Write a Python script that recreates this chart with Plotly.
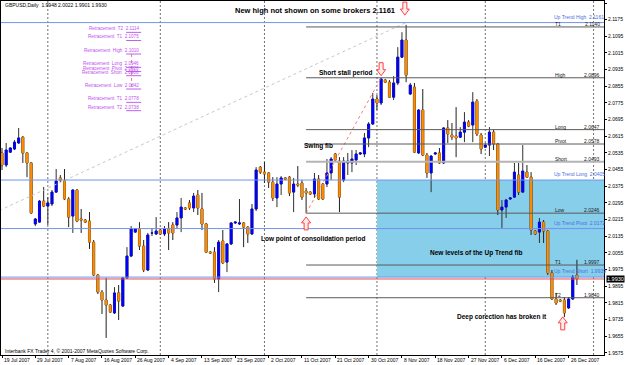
import pandas as pd
import plotly.graph_objects as go

# ---------------- data ----------------
opens = [2.0535,2.0477,2.0539,2.0554,2.0583,2.0611,2.0535,2.0487,2.0194,2.0203,
         2.0304,2.0280,2.0290,2.0347,2.0415,2.0400,2.0314,2.0232,2.0357,2.0218,
         2.0213,2.0208,2.0107,1.9949,1.9867,1.9829,1.9805,1.9767,1.9863,1.9800,
         1.9935,2.0040,2.0155,2.0170,2.0088,1.9973,2.0151,2.0146,2.0165,2.0146,
         2.0170,2.0189,2.0189,2.0223,2.0271,2.0295,2.0271,2.0333,2.0266,2.0194,
         2.0059,2.0059,1.9930,2.0112,2.0011,2.0098,2.0199,2.0194,2.0199,2.0179,
         2.0146,2.0266,2.0467,2.0443,2.0439,2.0395,2.0319,2.0386,2.0415,2.0419,
         2.0347,2.0386,2.0391,2.0352,2.0347,2.0338,2.0410,2.0386,2.0386,2.0439,
         2.0530,2.0496,2.0405,2.0487,2.0487,2.0501,2.0530,2.0530,2.0607,2.0674,
         2.0794,2.0775,2.0885,2.0875,2.0803,2.0871,2.0995,2.1077,2.0818,2.0851,
         2.0535,2.0741,2.0525,2.0439,2.0530,2.0535,2.0487,2.0655,2.0621,2.0616,
         2.0611,2.0635,2.0683,2.0669,2.0784,2.0621,2.0563,2.0573,2.0635,2.0578,
         2.0261,2.0275,2.0314,2.0323,2.0429,2.0347,2.0443,2.0419,2.0160,2.0155,
         2.0203,2.0160,1.9959,1.9834,1.9829,1.9829,1.9791,1.9834,1.9948]
highs = [2.0559,2.0583,2.0563,2.0597,2.0655,2.0616,2.0539,2.0491,2.0223,2.0309,
         2.0371,2.0323,2.0357,2.0458,2.0429,2.0458,2.0323,2.0362,2.0362,2.0266,
         2.0218,2.0251,2.0117,1.9954,1.9877,1.9935,1.9810,1.9891,1.9901,1.9939,
         2.0083,2.0184,2.0175,2.0203,2.0117,2.0151,2.0175,2.0227,2.0170,2.0184,
         2.0203,2.0203,2.0251,2.0319,2.0275,2.0309,2.0343,2.0357,2.0343,2.0199,
         2.0064,2.0083,2.0117,2.0165,2.0103,2.0203,2.0208,2.0314,2.0203,2.0184,
         2.0290,2.0467,2.0472,2.0491,2.0443,2.0419,2.0419,2.0424,2.0419,2.0424,
         2.0415,2.0472,2.0405,2.0367,2.0352,2.0439,2.0429,2.0391,2.0506,2.0515,
         2.0535,2.0515,2.0515,2.0535,2.0549,2.0549,2.0539,2.0631,2.0683,2.0823,
         2.0813,2.0896,2.0890,2.0885,2.0904,2.1043,2.1115,2.1150,2.0871,2.0871,
         2.0746,2.0842,2.0535,2.0525,2.0539,2.0559,2.0659,2.0693,2.0679,2.0755,
         2.0659,2.0731,2.0693,2.0827,2.0794,2.0631,2.0583,2.0659,2.0645,2.0583,
         2.0309,2.0314,2.0323,2.0487,2.0487,2.0573,2.0477,2.0443,2.0165,2.0223,
         2.0213,2.0165,1.9973,1.9863,1.9834,1.9843,1.9843,1.9949,2.0022]
lows = [2.0453,2.0467,2.0535,2.0549,2.0578,2.0487,2.0419,2.0242,2.0184,2.0199,
        2.0275,2.0189,2.0280,2.0343,2.0395,2.0309,2.0179,2.0151,2.0203,2.0151,
        2.0199,2.0074,1.9944,1.9858,1.9762,1.9647,1.9767,1.9762,1.9733,1.9795,
        1.9930,2.0035,2.0151,2.0069,1.9963,1.9968,2.0136,2.0141,2.0141,2.0136,
        2.0069,2.0117,2.0175,2.0155,2.0261,2.0261,2.0251,2.0237,2.0165,2.0055,
        2.0050,1.9911,1.9867,2.0002,1.9963,2.0093,2.0194,2.0189,2.0083,2.0103,
        2.0141,2.0256,2.0434,2.0391,2.0367,2.0304,2.0275,2.0333,2.0405,2.0328,
        2.0251,2.0371,2.0309,2.0246,2.0333,2.0319,2.0309,2.0309,2.0371,2.0405,
        2.0496,2.0251,2.0395,2.0429,2.0443,2.0477,2.0525,2.0515,2.0563,2.0669,
        2.0741,2.0765,2.0871,2.0799,2.0789,2.0861,2.0991,2.0875,2.0813,2.0535,
        2.0530,2.0520,2.0415,2.0347,2.0525,2.0482,2.0482,2.0583,2.0597,2.0515,
        2.0607,2.0587,2.0659,2.0587,2.0616,2.0530,2.0559,2.0520,2.0549,2.0237,
        2.0175,2.0223,2.0309,2.0319,2.0333,2.0343,2.0415,2.0141,2.0141,2.0103,
        2.0103,1.9949,1.9829,1.9805,1.9819,1.9747,1.9786,1.9829,1.9901]
closes = [2.0477,2.0549,2.0559,2.0587,2.0607,2.0535,2.0487,2.0247,2.0218,2.0304,
          2.0280,2.0295,2.0347,2.0400,2.0405,2.0314,2.0227,2.0357,2.0208,2.0213,
          2.0203,2.0107,1.9949,1.9867,1.9829,1.9805,1.9771,1.9863,1.9824,1.9935,
          2.0040,2.0170,2.0170,2.0088,1.9973,2.0141,2.0151,2.0160,2.0146,2.0170,
          2.0151,2.0151,2.0223,2.0275,2.0266,2.0271,2.0328,2.0271,2.0194,2.0059,
          2.0055,1.9930,2.0107,2.0007,2.0098,2.0199,2.0203,2.0199,2.0179,2.0146,
          2.0266,2.0453,2.0443,2.0434,2.0395,2.0319,2.0386,2.0415,2.0410,2.0343,
          2.0386,2.0381,2.0323,2.0343,2.0338,2.0410,2.0314,2.0314,2.0439,2.0506,
          2.0501,2.0323,2.0496,2.0496,2.0506,2.0530,2.0535,2.0607,2.0674,2.0794,
          2.0775,2.0890,2.0875,2.0803,2.0871,2.0995,2.1077,2.0909,2.0861,2.0539,
          2.0741,2.0525,2.0439,2.0520,2.0535,2.0487,2.0655,2.0626,2.0611,2.0607,
          2.0635,2.0683,2.0664,2.0779,2.0626,2.0554,2.0573,2.0635,2.0578,2.0261,
          2.0275,2.0309,2.0319,2.0443,2.0347,2.0448,2.0419,2.0165,2.0146,2.0203,
          2.0160,1.9959,1.9834,1.9815,1.9824,1.9767,1.9834,1.9939,1.9930]

date_labels = ["19 Jul 2007", "29 Jul 2007", "7 Aug 2007", "16 Aug 2007", "26 Aug 2007",
               "4 Sep 2007", "13 Sep 2007", "23 Sep 2007", "2 Oct 2007", "11 Oct 2007",
               "21 Oct 2007", "30 Oct 2007", "8 Nov 2007", "18 Nov 2007", "27 Nov 2007",
               "6 Dec 2007", "16 Dec 2007", "26 Dec 2007"]
price_ticks = [2.1255, 2.1175, 2.1095, 2.1015, 2.0935, 2.0855, 2.0775, 2.0695, 2.0615,
               2.0535, 2.0455, 2.0375, 2.0295, 2.0215, 2.0135, 2.0055, 1.9975, 1.9895,
               1.9815, 1.9735, 1.9655, 1.9575]
grid_dates = ["2007-08-01", "2007-09-02", "2007-10-01", "2007-11-01", "2007-12-02", "2008-01-02"]

swing_names = ["T1", "High", "Long", "Pivot", "Short", "Low", "T1", "T2"]
swing_levels = [2.1140, 2.0896, 2.0647, 2.0578, 2.0493, 2.0246, 1.9997, 1.9840]
up_names = ["Up Trend High", "Up Trend Long", "Up Trend Pivot", "Up Trend Short"]
up_levels = [2.1161, 2.0405, 2.0172, 1.9939]
up_low = 1.9183
retr_names = ["T2", "T1", "High", "Long", "Pivot", "Short", "Low", "T1", "T2"]
retr_levels = [2.1114, 2.1075, 2.1010, 2.0946, 2.0926, 2.0906, 2.0842, 2.0778, 2.0738]
bid = 1.9930

BULL, BEAR = "#0000FF", "#FF8C00"

# ---------------- calendar (Sun-Fri bars) ----------------
cal = pd.bdate_range("2007-07-19", "2008-01-15", freq="C",
                     weekmask="Sun Mon Tue Wed Thu Fri", holidays=["2007-12-25"])
cal = [d.strftime("%Y-%m-%d") for d in cal]
pos = {d: i for i, d in enumerate(cal)}
n = len(opens)
xs = list(range(n))
label_idx = [pos[pd.to_datetime(t).strftime("%Y-%m-%d")] for t in date_labels]
grid_idx = [pos[d] for d in grid_dates]

# ---------------- geometry ----------------
W, H = 625, 365
ML, MR, MT, MB = 1, 21, 1, 10
PW, PH = W - ML - MR, H - MT - MB
x_rng = [-0.24, 144.5]
y_rng = [1.9565, 2.12646]
bpx = PW / (x_rng[1] - x_rng[0])      # px per bar
ppx = PH / (y_rng[1] - y_rng[0])      # px per price unit

def px2paper(px, py):
    return (px - ML) / PW, 1 - (py - MT) / PH

fig = go.Figure()
# shadows (wicks) with dark outline
fig.add_trace(go.Candlestick(
    x=xs, open=opens, high=highs, low=lows, close=closes,
    increasing=dict(fillcolor=BULL, line=dict(color="#303030", width=1)),
    decreasing=dict(fillcolor=BEAR, line=dict(color="#202020", width=1)),
    whiskerwidth=0, showlegend=False, hoverinfo="skip"))
# solid bodies drawn on top (same candles, body range only)
body_hi = [max(o, c) for o, c in zip(opens, closes)]
body_lo = [min(o, c) for o, c in zip(opens, closes)]
fig.add_trace(go.Candlestick(
    x=xs, open=opens, high=body_hi, low=body_lo, close=closes,
    increasing=dict(fillcolor=BULL, line=dict(color=BULL, width=0.5)),
    decreasing=dict(fillcolor=BEAR, line=dict(color=BEAR, width=0.5)),
    whiskerwidth=0, showlegend=False, hoverinfo="skip"))

shapes = []
shapes.append(dict(type="rect", xref="x", yref="y", x0=pos["2007-11-01"], x1=x_rng[1],
                   y0=up_levels[3], y1=up_levels[1], fillcolor="#87CEEB",
                   line=dict(width=0), layer="below"))
for g in grid_idx:
    shapes.append(dict(type="line", xref="x", yref="paper", x0=g, x1=g, y0=0, y1=1,
                       line=dict(color="#707070", width=1, dash="2px,2px"), layer="below"))
shapes.append(dict(type="line", xref="x", yref="y", x0=-117, y0=up_low, x1=97, y1=up_levels[0],
                   line=dict(color="#C8C8C8", width=1, dash="dot")))
shapes.append(dict(type="line", xref="x", yref="y", x0=73, y0=swing_levels[5], x1=91,
                   y1=swing_levels[1], line=dict(color="#F08080", width=1, dash="dot")))
for nm, lv in zip(swing_names, swing_levels):
    col, wd = ("#B4B4B4", 2) if nm == "Short" else ("#5A5A5A", 1)
    shapes.append(dict(type="line", xref="x", yref="y", x0=73, x1=x_rng[1], y0=lv, y1=lv,
                       line=dict(color=col, width=wd)))
for lv in up_levels:
    shapes.append(dict(type="line", xref="x", yref="y", x0=x_rng[0], x1=x_rng[1], y0=lv, y1=lv,
                       line=dict(color="#7093F0", width=1)))
shapes.append(dict(type="line", xref="x", yref="y", x0=x_rng[0], x1=x_rng[1], y0=bid, y1=bid,
                   line=dict(color="#E05050", width=1)))
shapes.append(dict(type="line", xref="x", yref="y", x0=31.1, x1=31.1, y0=retr_levels[2],
                   y1=retr_levels[6], line=dict(color="#F08080", width=1, dash="dot")))
for lv in retr_levels:
    shapes.append(dict(type="line", xref="x", yref="y", x0=29.8, x1=33.4, y0=lv, y1=lv,
                       line=dict(color="#C060F0", width=1)))

def arrow(xc, ytip, down=True):
    pts = [(-2, 13), (2, 13), (2, 6), (4.5, 6), (0, 0), (-4.5, 6), (-2, 6)]
    s = 1 if down else -1
    coords = [(xc + dx / bpx, ytip + s * dy / ppx) for dx, dy in pts]
    path = "M " + " L ".join(f"{a:.4f},{b:.5f}" for a, b in coords) + " Z"
    return dict(type="path", xref="x", yref="y", path=path,
                line=dict(color="#FF4040", width=1), fillcolor="rgba(255,235,235,0.9)")

shapes.append(arrow(96.7, 2.1197, True))
shapes.append(arrow(91.0, 2.0906, True))
shapes.append(arrow(73.0, 2.0228, False))
shapes.append(arrow(134.6, 1.9748, False))

ann = []
F = "Liberation Sans"
def txt(text, px, py, size=7, color="black", xanchor="left", **kw):
    xp, yp = px2paper(px, py)
    ann.append(dict(text=text, x=xp, y=yp, xref="paper", yref="paper", showarrow=False,
                    xanchor=xanchor, yanchor="middle", font=dict(family=F, size=size, color=color), **kw))

txt("GBPUSD,Daily  1.9948 2.0022 1.9901 1.9930", 3, 5, 5)
txt("Interbank FX Trader 4, © 2001-2007 MetaQuotes Software Corp.", 3, 351, 5)
txt("<b>New high not shown on some brokers 2.1161</b>", 233, 10, 7.5)
txt("<b>Short stall period</b>", 317, 73, 6.5)
txt("<b>Swing fib</b>", 302, 146, 6.5)
txt("<b>Low point of consolidation period</b>", 259, 239, 6.5)
txt("<b>New levels of the Up Trend fib</b>", 428, 253, 6.5)
txt("<b>Deep corection has broken it</b>", 455, 317, 6.5)

def lvl(text, px, price, color, xanchor="left", size=5, yshift=-1):
    xp, _ = px2paper(px, 0)
    ann.append(dict(text=text, x=xp, y=price, xref="paper", yref="y", showarrow=False,
                    xanchor=xanchor, yanchor="bottom", yshift=yshift,
                    font=dict(family=F, size=size, color=color)))

for nm, lv in zip(swing_names, swing_levels):
    lvl(nm, 553, lv, "#202020", yshift=-2)
    lvl(f"{lv:.4f}", 602, lv, "#202020", "right", yshift=-2)
for nm, lv in zip(up_names, up_levels):
    lvl(f"{nm}  {lv:.4f}", 552, lv, "#4A6FE0", yshift=1)
for nm, lv in zip(retr_names, retr_levels):
    lvl(f"Retracement  {nm}  {lv:.4f}", 141, lv, "#C050F0", "right", size=4.6)

for i, t in zip(label_idx, date_labels):
    ann.append(dict(text=t, x=i, y=px2paper(0, 359.5)[1], xref="x", yref="paper", showarrow=False,
                    xanchor="left", yanchor="middle", font=dict(family=F, size=5, color="black")))

ann.append(dict(text=f"{bid:.4f}", x=1.0, y=bid, xref="paper", yref="y", showarrow=False,
                xanchor="left", yanchor="middle", xshift=2, bgcolor="black", borderpad=0,
                font=dict(family=F, size=5.5, color="white")))

fig.update_layout(
    width=W, height=H, margin=dict(l=ML, r=MR, t=MT, b=MB),
    paper_bgcolor="white", plot_bgcolor="white", boxgap=0.3, boxmode="overlay",
    shapes=shapes, annotations=ann, showlegend=False,
    xaxis=dict(range=x_rng, showgrid=False, zeroline=False, showline=True, mirror=True,
               linecolor="black", linewidth=1, ticks="outside", ticklen=2, tickcolor="black",
               tickvals=label_idx, showticklabels=False, rangeslider=dict(visible=False),
               fixedrange=True),
    yaxis=dict(range=y_rng, side="right", showgrid=False, zeroline=False, showline=True,
               mirror=True, linecolor="black", linewidth=1, ticks="outside", ticklen=2,
               tickcolor="black", tickvals=price_ticks, ticktext=[f"{v:.4f}" for v in price_ticks],
               tickfont=dict(family=F, size=5, color="black"), fixedrange=True),
)
fig.write_html("out.html")
